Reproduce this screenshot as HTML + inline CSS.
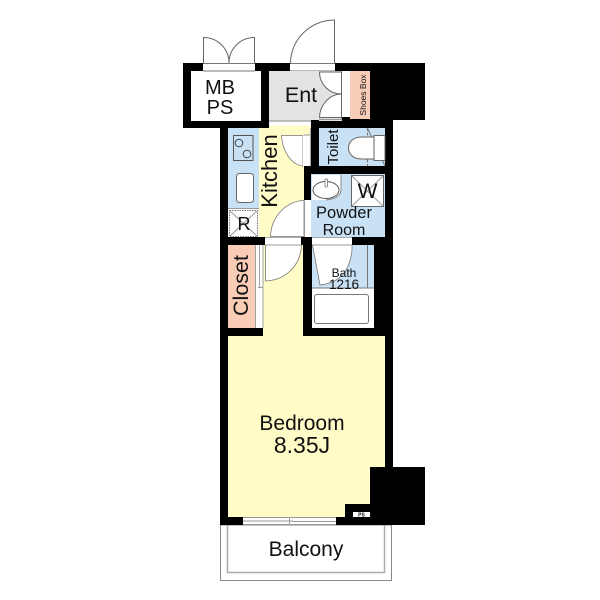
<!DOCTYPE html>
<html><head><meta charset="utf-8"><style>
html,body{margin:0;padding:0;background:#fff}
svg{display:block}
text{font-family:"Liberation Sans",sans-serif;fill:#111}
</style></head><body>
<svg width="600" height="600" viewBox="0 0 600 600" xmlns="http://www.w3.org/2000/svg">
<!-- Balcony -->
<rect x="220.500" y="525" width="171" height="55.500" fill="#fff" stroke="#888" stroke-width="1"/>
<path d="M227.500 525V572.500H384.500V525" fill="none" stroke="#aaa" stroke-width="1.500"/>
<!-- Outer black -->
<rect x="183" y="63" width="242" height="57" fill="#000"/>
<rect x="183" y="63" width="86" height="65" fill="#000"/>
<rect x="220" y="120" width="173" height="405" fill="#000"/>
<rect x="370" y="467" width="55" height="58" fill="#000"/>
<!-- MB PS -->
<rect x="191" y="71" width="70" height="50" fill="#fff"/>
<rect x="203" y="63" width="52" height="8" fill="#fff"/>
<path d="M203 63.500H255M203 71H255" stroke="#777" fill="none"/>
<path d="M203.500 63V37.500C218 37.500 229 49 229 63M254.500 63V37.500C240 37.500 229 49 229 63" fill="none" stroke="#666" stroke-width="1"/>
<!-- Ent door -->
<rect x="290" y="63" width="45" height="8" fill="#fff"/>
<path d="M290 63.500H335M290 71H335" stroke="#777" fill="none"/>
<path d="M334.500 63V20C310 20 290.500 40 290.500 63" fill="none" stroke="#666" stroke-width="1"/>
<!-- Ent -->
<rect x="269" y="71" width="73" height="50" fill="#e3e3e3"/>
<rect x="269" y="121" width="42" height="5" fill="#fff"/>
<rect x="269" y="125.500" width="42" height="3" fill="#fffcc8"/>
<path d="M269 121H311" stroke="#aaa" stroke-width="1.500"/>
<rect x="342" y="71" width="8" height="46" fill="#fff"/>
<path d="M341.500 71V119M319 119.500H342" stroke="#999" stroke-width="1"/>
<path d="M319.500 72H341.500V94C329 94 319.500 84 319.500 72Z" fill="#fff" stroke="#666"/>
<path d="M319.500 117.500H341.500V94C329 94 319.500 106 319.500 117.500Z" fill="#fff" stroke="#666"/>
<rect x="350" y="71" width="20" height="48" fill="#f7cdb7"/>
<!-- Kitchen -->
<rect x="259" y="128" width="52" height="109" fill="#fffcc8"/>
<rect x="228" y="128" width="31" height="80" fill="#c8e1f5"/>
<rect x="228" y="208" width="31" height="29" fill="#fff"/>
<path d="M228 208.500H259" stroke="#999"/>
<rect x="233.500" y="135.500" width="19.500" height="25" fill="none" stroke="#555"/>
<circle cx="239" cy="143" r="3.800" fill="none" stroke="#444"/>
<circle cx="247" cy="154" r="3.800" fill="none" stroke="#444"/>
<rect x="236.500" y="173.500" width="17" height="29" rx="3" fill="#fff" stroke="#666"/>
<rect x="229.500" y="210.500" width="28" height="26" fill="#fff" stroke="#777" stroke-dasharray="1.500 1"/>
<path d="M230 211L257 236M257 211L230 236" stroke="#999"/>
<!-- Kitchen toilet door -->
<path d="M281.500 135.500H303V166C291 165 282 150 281.500 135.500Z" fill="#fff" stroke="#777" stroke-width=".8"/>
<rect x="303" y="135" width="8" height="31" fill="#fff"/>
<path d="M303.500 135H311M310.500 128V166" stroke="#aaa" stroke-width="1.200"/>
<!-- Wall between kitchen and powder -->
<rect x="304" y="166" width="8" height="71" fill="#000"/>
<rect x="304" y="200" width="8" height="37" fill="#fff"/>
<path d="M304.500 200.500V237M311.500 200V237" stroke="#aaa"/>
<path d="M304 200.500C286 201 271 217 270.500 236.500H304Z" fill="#fff" stroke="#777" stroke-width=".8"/>
<rect x="311" y="120" width="8" height="47" fill="#000"/>
<!-- Toilet -->
<rect x="319" y="128" width="66" height="38" fill="#c8e1f5"/>
<path d="M367.500 128V166" stroke="#777" stroke-dasharray="3 1.500" />
<path d="M367.500 128L385 166" stroke="#777"/>
<path d="M374 135.500H385V160.500H374Z" fill="#fff" stroke="#666"/>
<path d="M374 137H362C352 137 348.500 143 348.500 148C348.500 153 352 159 362 159H374Z" fill="#fff" stroke="#666"/>
<!-- Powder room -->
<rect x="311" y="174" width="74" height="63" fill="#c8e1f5"/>
<path d="M312 175H341V190C341 197 333 200 326 200H312Z" fill="#fff"/>
<path d="M341 175V190C341 197 333 199 326 200" fill="none" stroke="#888"/>
<ellipse cx="326" cy="190" rx="13" ry="8.500" fill="#fff" stroke="#555"/>
<rect x="325" y="179" width="2.500" height="8" rx="1" fill="#fff" stroke="#666" stroke-width=".7"/>
<rect x="351.500" y="175.500" width="32" height="31" fill="#fff" stroke="#666"/>
<path d="M352 176L383 206M383 176L352 206" stroke="#999"/>
<!-- Wall across -->
<rect x="220" y="237" width="173" height="8" fill="#000"/>
<rect x="265" y="237" width="36" height="8" fill="#fff"/>
<rect x="312" y="237" width="40" height="8" fill="#fff"/>
<path d="M265 237.500H301M312 237.500H352" stroke="#aaa"/>
<!-- Corridor -->
<rect x="263" y="245" width="40" height="91" fill="#fffcc8"/>
<path d="M265.500 245H301.500C301 263 288 280 265.500 281Z" fill="#fff" stroke="#777" stroke-width=".8"/>
<!-- Closet -->
<rect x="228" y="245" width="27" height="83" fill="#f9cdb5"/>
<rect x="255" y="245" width="8" height="83" fill="#fff"/>
<path d="M255.500 245V328M259.500 245V288M258 287.500H263M263 245V328" stroke="#999" stroke-width=".9" fill="none"/>
<rect x="220" y="328" width="43" height="8" fill="#000"/>
<!-- Bath -->
<rect x="312" y="245" width="62" height="83" fill="#fff"/>
<rect x="312" y="245" width="62" height="43" fill="#c8e1f5"/>
<path d="M367.500 245V288M312 288H374" stroke="#777" fill="none"/>
<path d="M312.500 245H352V250C350 270 340 283 320 285Z" fill="#fff" stroke="#777" stroke-width=".8"/>
<rect x="314.500" y="294.500" width="54" height="29" rx="2.500" fill="#fff" stroke="#777"/>
<!-- Bedroom -->
<rect x="228" y="336" width="157" height="181" fill="#fffcc8"/>
<rect x="370" y="467" width="15" height="50" fill="#000"/>
<rect x="345" y="504" width="40" height="13" fill="#000"/>
<rect x="353" y="512" width="17" height="5" fill="#fff"/>
<text x="361.500" y="516.500" font-size="5" text-anchor="middle" font-weight="bold">PS</text>
<!-- Window -->
<rect x="243" y="517" width="93" height="8" fill="#fff"/>
<path d="M243 517.500H336M243 524.500H336M243 521H293M293 521.500H336M289.500 518V524" stroke="#999" stroke-width=".9" fill="none"/>
<!-- Labels -->
<text x="220" y="94" font-size="20" text-anchor="middle">MB</text>
<text x="220" y="114" font-size="20" text-anchor="middle">PS</text>
<text x="301" y="102" font-size="21.500" text-anchor="middle">Ent</text>
<text transform="translate(366,95) rotate(-90)" font-size="8.500" text-anchor="middle">Shoes Box</text>
<text transform="translate(277,171) rotate(-90)" font-size="22" text-anchor="middle">Kitchen</text>
<text transform="translate(338,147) rotate(-90)" font-size="15" text-anchor="middle">Toilet</text>
<text x="244" y="230" font-size="18" text-anchor="middle">R</text>
<text x="367.500" y="198" font-size="21" text-anchor="middle">W</text>
<text x="344" y="218" font-size="16.500" text-anchor="middle">Powder</text>
<text x="344" y="235" font-size="16" text-anchor="middle">Room</text>
<text x="344" y="277" font-size="12" text-anchor="middle">Bath</text>
<text x="344" y="289" font-size="13.500" text-anchor="middle">1216</text>
<text transform="translate(248,285.500) rotate(-90)" font-size="21.500" text-anchor="middle">Closet</text>
<text x="302" y="430" font-size="21" text-anchor="middle">Bedroom</text>
<text x="302" y="453" font-size="23" text-anchor="middle">8.35J</text>
<text x="306" y="556" font-size="21" text-anchor="middle">Balcony</text>
</svg>
</body></html>
